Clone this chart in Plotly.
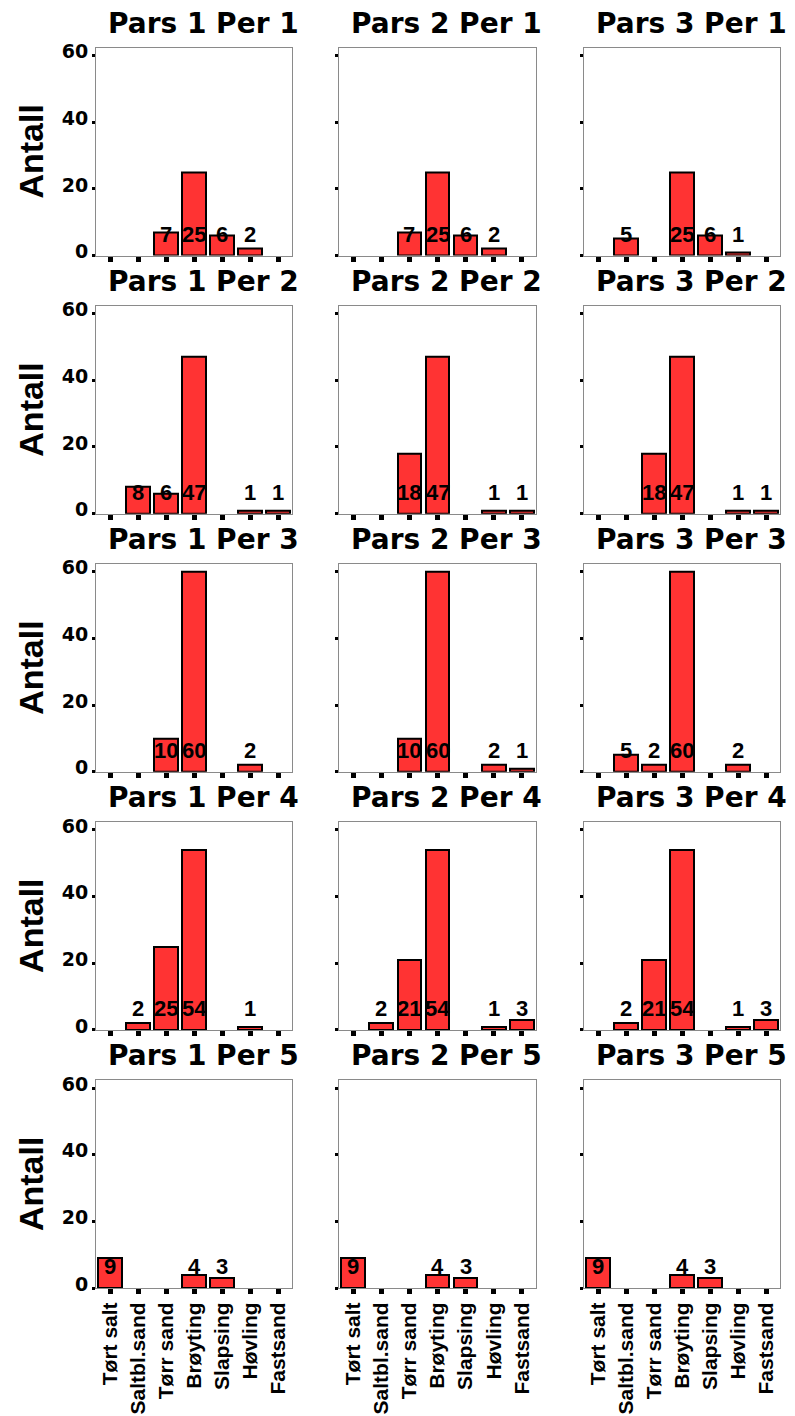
import plotly.graph_objects as go

# ---------------- data ----------------
CATEGORIES = ["Tørt salt", "Saltbl.sand", "Tørr sand", "Brøyting", "Slapsing", "Høvling", "Fastsand"]
PARS = ["Pars 1", "Pars 2", "Pars 3"]
PERIODS = ["Per 1", "Per 2", "Per 3", "Per 4", "Per 5"]
Y_TICKS = [0, 20, 40, 60]
Y_TITLE = "Antall"

per1_pars1 = [0, 0, 7, 25, 6, 2, 0]
per1_pars2 = [0, 0, 7, 25, 6, 2, 0]
per1_pars3 = [0, 5, 0, 25, 6, 1, 0]

per2_pars1 = [0, 8, 6, 47, 0, 1, 1]
per2_pars2 = [0, 0, 18, 47, 0, 1, 1]
per2_pars3 = [0, 0, 18, 47, 0, 1, 1]

per3_pars1 = [0, 0, 10, 60, 0, 2, 0]
per3_pars2 = [0, 0, 10, 60, 0, 2, 1]
per3_pars3 = [0, 5, 2, 60, 0, 2, 0]

per4_pars1 = [0, 2, 25, 54, 0, 1, 0]
per4_pars2 = [0, 2, 21, 54, 0, 1, 3]
per4_pars3 = [0, 2, 21, 54, 0, 1, 3]

per5_pars1 = [9, 0, 0, 4, 3, 0, 0]
per5_pars2 = [9, 0, 0, 4, 3, 0, 0]
per5_pars3 = [9, 0, 0, 4, 3, 0, 0]

PANELS = [
    [per1_pars1, per1_pars2, per1_pars3],
    [per2_pars1, per2_pars2, per2_pars3],
    [per3_pars1, per3_pars2, per3_pars3],
    [per4_pars1, per4_pars2, per4_pars3],
    [per5_pars1, per5_pars2, per5_pars3],
]

# ---------------- layout / style ----------------
W, H = 795, 1416
COL_X = [(96, 292), (339, 536), (584, 780)]
ROW_TOP0, ROW_STEP, ROW_H = 41, 260.7, 210
Y_MAX = 62.4
LABEL_Y = 2.0
BAR_COLOR = "#FF3333"
FRAME = "#8a8a8a"
TITLE_FONT = dict(family="DejaVu Sans", size=28, color="black", weight="bold")
YTICK_FONT = dict(family="DejaVu Sans", size=19, color="black", weight="bold")
XTICK_FONT = dict(family="Liberation Sans", size=21, color="black", weight="bold")
LABEL_FONT = dict(family="Liberation Sans", size=22, color="black", weight="bold")
YTITLE_FONT = dict(family="Liberation Sans", size=34, color="black", weight="bold")

fig = go.Figure()
annotations = []

for r, period in enumerate(PERIODS):
    top = ROW_TOP0 + r * ROW_STEP
    bottom = top + ROW_H
    ydom = [1 - bottom / H, 1 - top / H]
    for c, pars in enumerate(PARS):
        idx = r * 3 + c + 1
        xa = "x" if idx == 1 else f"x{idx}"
        ya = "y" if idx == 1 else f"y{idx}"
        xkey = "xaxis" if idx == 1 else f"xaxis{idx}"
        ykey = "yaxis" if idx == 1 else f"yaxis{idx}"
        vals = PANELS[r][c]
        fig.add_trace(go.Bar(
            x=CATEGORIES,
            y=[v if v else None for v in vals],
            width=0.84,
            marker=dict(color=BAR_COLOR, line=dict(color="black", width=2)),
            xaxis=xa, yaxis=ya, showlegend=False, hoverinfo="x+y",
        ))
        x0, x1 = COL_X[c]
        fig.update_layout({
            xkey: dict(
                domain=[x0 / W, x1 / W], anchor=ya, type="category",
                categoryorder="array", categoryarray=CATEGORIES,
                range=[-0.5, 6.5], showgrid=False, zeroline=False,
                showline=True, linecolor=FRAME, linewidth=1, mirror=True,
                ticks="outside", ticklen=5, tickwidth=5, tickcolor="black",
                showticklabels=(r == len(PERIODS) - 1), tickangle=-90,
                tickfont=XTICK_FONT, fixedrange=True,
            ),
            ykey: dict(
                domain=ydom, anchor=xa, range=[0, Y_MAX],
                tickvals=Y_TICKS, showgrid=False, zeroline=False,
                showline=True, linecolor=FRAME, linewidth=1, mirror=True,
                ticks="outside", ticklen=3, tickwidth=3, tickcolor="black",
                showticklabels=(c == 0), tickfont=YTICK_FONT,
                ticklabelshift=-4, fixedrange=True,
            ),
        })
        # panel title
        annotations.append(dict(
            text=f"{pars} {period}", xref="paper", yref="paper",
            x=(x0 + x1) / 2 / W, y=1 - top / H, xanchor="center", yanchor="bottom",
            xshift=9, yshift=6, showarrow=False, font=TITLE_FONT,
        ))
        # value labels
        for cat, v in zip(CATEGORIES, vals):
            if v:
                annotations.append(dict(
                    text=str(v), xref=xa, yref=ya, x=cat, y=LABEL_Y,
                    xanchor="center", yanchor="bottom", showarrow=False,
                    font=LABEL_FONT,
                ))
    # y axis title
    annotations.append(dict(
        text=Y_TITLE, xref="paper", yref="paper", x=31 / W,
        y=1 - (top + ROW_H / 2) / H, xanchor="center", yanchor="middle",
        textangle=-90, showarrow=False, font=YTITLE_FONT,
    ))

fig.update_layout(
    width=W, height=H, margin=dict(l=0, r=0, t=0, b=0),
    paper_bgcolor="white", plot_bgcolor="white",
    annotations=annotations, bargap=0,
)

fig.write_html("out.html", config={"displayModeBar": False},
               post_script="document.body.style.margin='0px';")
